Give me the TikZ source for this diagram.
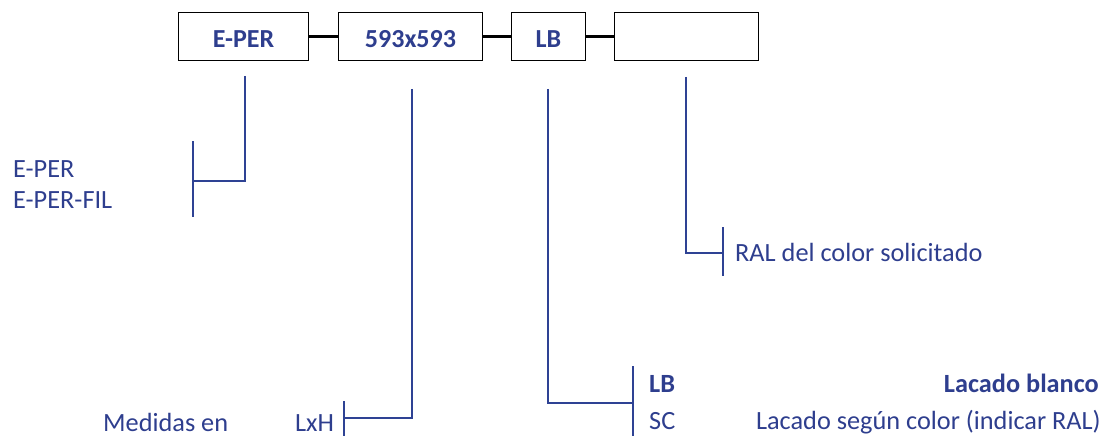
\documentclass[tikz,border=0pt]{standalone}
\usepackage{fontspec}
\setmainfont{Carlito}
\definecolor{dblue}{RGB}{46,62,142}
\definecolor{lblue}{RGB}{46,66,148}
\begin{document}
\begin{tikzpicture}[x=1pt,y=-1pt,
  box/.style={draw=black,line width=1.7pt,inner sep=0pt,minimum height=48pt,
    text height=23pt,text depth=0pt,font=\fontsize{26}{30}\selectfont\bfseries,text=dblue},
  conn/.style={draw=black,line width=3.6pt},
  lead/.style={draw=lblue,line width=2.4pt},
  lbl/.style={inner sep=0pt,text=dblue,font=\fontsize{26.3}{30}\selectfont},
  blbl/.style={lbl,font=\fontsize{26.3}{30}\selectfont\bfseries}]
\useasboundingbox (0,0) rectangle (1104,436);
% boxes
\node[box,minimum width=130pt] (b1) at (243.5,36.5) {E-PER};
\node[box,minimum width=144pt] (b2) at (410.5,36.5) {593x593};
\node[box,minimum width=74pt]  (b3) at (548.5,36.5) {LB};
\node[box,minimum width=144pt] (b4) at (686.5,36.5) {};
\draw[conn] (b1.east) -- (b2.west);
\draw[conn] (b2.east) -- (b3.west);
\draw[conn] (b3.east) -- (b4.west);
% lead 1
\coordinate (s1) at (245,76);
\coordinate (k1) at (193,181);
\coordinate (k1a) at (193,141);
\coordinate (k1b) at (193,217);
\draw[lead] (s1) |- (k1);
\draw[lead] (k1a) -- (k1b);
\node[lbl,anchor=base west] (e1) at (13,177) {E-PER};
\node[lbl,anchor=base west] (e2) at (13,208) {E-PER-FIL};
% lead 2
\coordinate (s2) at (412,89);
\coordinate (k2) at (344,418);
\coordinate (k2a) at (344,401);
\coordinate (k2b) at (344,436);
\draw[lead] (s2) |- (k2);
\draw[lead] (k2a) -- (k2b);
\node[lbl,anchor=base west] (m1) at (103,431) {Medidas en};
\node[lbl,anchor=base west] (m2) at (295,431) {LxH};
% lead 3
\coordinate (s3) at (548,89);
\coordinate (k3) at (633,403);
\coordinate (k3a) at (633,366);
\coordinate (k3b) at (633,436);
\draw[lead] (s3) |- (k3);
\draw[lead] (k3a) -- (k3b);
\node[blbl,anchor=base west] (c1) at (649,392) {LB};
\node[lbl,anchor=base west] (c2) at (649,429) {SC};
\node[blbl,anchor=base east] (d1) at (1099,392) {Lacado blanco};
\node[lbl,anchor=base east] (d2) at (1101,429) {Lacado según color (indicar RAL)};
% lead 4
\coordinate (s4) at (686,77);
\coordinate (k4) at (723,253);
\coordinate (k4a) at (723,227);
\coordinate (k4b) at (723,276);
\draw[lead] (s4) |- (k4);
\draw[lead] (k4a) -- (k4b);
\node[lbl,anchor=base west] (r1) at (735,261) {RAL del color solicitado};
\end{tikzpicture}
\end{document}
